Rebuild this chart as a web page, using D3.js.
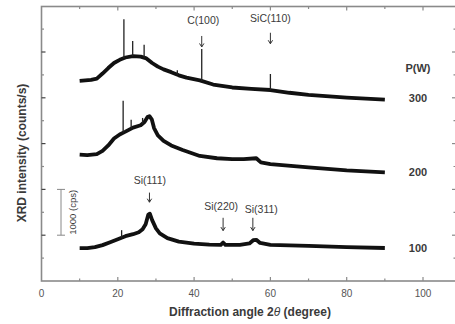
<!DOCTYPE html>
<html>
<head>
<meta charset="utf-8">
<script src="https://cdn.jsdelivr.net/npm/d3@7"></script>
<style>
  body { margin: 0; background: #fff; }
  svg { display: block; font-family: "Liberation Sans", Arial, sans-serif; }
</style>
</head>
<body>
<div id="chart"></div>
<script>
// XRD patterns, [2theta (deg), intensity (cps)]
const series100 = [
  [10, 717], [12, 717], [14, 739], [16, 783], [18, 848], [20, 913], [22, 978],
  [24, 1022], [25.5, 1065], [26.5, 1130], [27.3, 1240], [28, 1450], [28.4, 1470],
  [29, 1330], [30, 1150], [31, 1040], [33, 935], [36, 860], [40, 815], [44, 795],
  [47, 790], [47.6, 840], [48.2, 790], [52, 790], [54.5, 820], [55.5, 890], [56.3, 900],
  [57.3, 830], [60, 790], [70, 765], [80, 740], [90, 720]
];
const series200 = [
  [10, 2761], [12, 2750], [14.5, 2770], [16, 2840], [17.5, 2960], [19, 3110], [20.5, 3200],
  [22, 3261], [24, 3350], [26, 3400], [27, 3470], [27.8, 3580], [28.3, 3600], [28.9, 3530],
  [29.5, 3340], [30.5, 3180], [32, 3060], [34, 2960], [37, 2860], [41.5, 2730], [46, 2680],
  [50, 2660], [53, 2660], [56.3, 2680], [57.5, 2590], [60, 2550], [70, 2480], [80, 2415],
  [90, 2370]
];
const series300 = [
  [10, 4370], [13, 4390], [14.5, 4420], [16, 4530], [17.5, 4650], [19, 4760], [20.5, 4830],
  [22, 4880], [24, 4910], [26, 4900], [27.5, 4860], [29, 4760], [30.5, 4680], [32, 4620],
  [34, 4560], [36, 4490], [38, 4440], [41.5, 4380], [45, 4290], [50, 4225], [55, 4195],
  [60, 4170], [65, 4110], [70, 4065], [80, 4005], [90, 3960]
];
// narrow spikes: [2theta, top (cps)]
const spikes100 = [[21, 1110]];
const spikes200 = [[21.4, 3935], [23.5, 3520], [26.5, 3560]];
const spikes300 = [[21.6, 5717], [23.9, 5240], [26.9, 5160], [35.6, 4600], [42, 5065], [60, 4520]];

const powerLabels = ['300', '200', '100'];
const powerLevels = [4000, 2370, 717];
// label position, then arrow position (2theta, cps)
const peakLabels = [
  { text: 'C(100)', lx: 42.4, ly: 5610, ax: 42, top: 5350, bot: 5110 },
  { text: 'SiC(110)', lx: 60, ly: 5660, ax: 60, top: 5420, bot: 5180 },
  { text: 'Si(111)', lx: 28.4, ly: 2110, ax: 28.3, top: 1930, bot: 1720 },
  { text: 'Si(220)', lx: 47.1, ly: 1540, ax: 47.6, top: 1380, bot: 1100 },
  { text: 'Si(311)', lx: 57.6, ly: 1490, ax: 55.4, top: 1380, bot: 1100 }
];
const xTicks = [0, 20, 40, 60, 80, 100];

const W = 455, H = 324;
const margin = { left: 41.5, top: 6.5, right: -1, bottom: 43 };

const svg = d3.select('#chart').append('svg')
  .attr('width', W).attr('height', H);

const x = d3.scaleLinear().domain([0, 100]).range([margin.left, 423]);
const y = d3.scaleLinear().domain([0, 6000]).range([281, 281 - 6 * 45.8]);
const x1 = W - margin.right;

const axisColor = '#8a8a8a';
const textColor = '#3a3a3a';

// frame
svg.append('rect')
  .attr('x', margin.left).attr('y', margin.top)
  .attr('width', x1 - margin.left).attr('height', 281 - margin.top)
  .attr('fill', 'none').attr('stroke', axisColor).attr('stroke-width', 1.6);

// x ticks (bottom and top, inward)
d3.range(10, 111, 10).forEach(v => {
  const major = v % 20 === 0;
  const len = major ? 4 : 2.5;
  svg.append('line').attr('x1', x(v)).attr('x2', x(v))
    .attr('y1', 281).attr('y2', 281 - len)
    .attr('stroke', axisColor).attr('stroke-width', 1.2);
  svg.append('line').attr('x1', x(v)).attr('x2', x(v))
    .attr('y1', margin.top).attr('y2', margin.top + len)
    .attr('stroke', axisColor).attr('stroke-width', 1.2);
});

// y ticks (left and right, inward)
d3.range(500, 6000, 500).forEach(v => {
  const major = v % 1000 === 0;
  const len = major ? 4 : 2.5;
  svg.append('line').attr('x1', margin.left).attr('x2', margin.left + len)
    .attr('y1', y(v)).attr('y2', y(v))
    .attr('stroke', major ? '#444' : axisColor).attr('stroke-width', 1.2);
  svg.append('line').attr('x1', x1).attr('x2', x1 - len)
    .attr('y1', y(v)).attr('y2', y(v))
    .attr('stroke', axisColor).attr('stroke-width', 1.2);
});

// x tick labels
svg.selectAll('.xt').data(xTicks).enter().append('text')
  .attr('x', d => x(d)).attr('y', 297)
  .attr('text-anchor', 'middle')
  .attr('font-size', 10).attr('fill', '#555')
  .text(d => d);

// axis titles
const xt = svg.append('text')
  .attr('x', 250).attr('y', 316)
  .attr('text-anchor', 'middle')
  .attr('font-size', 12).attr('font-weight', 700).attr('fill', textColor);
xt.append('tspan').text('Diffraction angle 2');
xt.append('tspan').attr('font-style', 'italic').attr('font-weight', 400).text('θ');
xt.append('tspan').text(' (degree)');

svg.append('text')
  .attr('transform', 'translate(26,153) rotate(-90)')
  .attr('text-anchor', 'middle')
  .attr('font-size', 12).attr('font-weight', 700).attr('fill', textColor)
  .text('XRD intensity (counts/s)');

// curves
const line = d3.line().x(d => x(d[0])).y(d => y(d[1]));
const allSeries = [series300, series200, series100];
const allSpikes = [spikes300, spikes200, spikes100];

allSeries.forEach((s, i) => {
  svg.append('path').datum(s)
    .attr('d', line)
    .attr('fill', 'none')
    .attr('stroke', '#111')
    .attr('stroke-width', 3.8)
    .attr('stroke-linejoin', 'round');

  const base = a => {
    const j = d3.bisector(d => d[0]).left(s, a);
    const p0 = s[Math.max(0, j - 1)], p1 = s[Math.min(s.length - 1, j)];
    const t = p1[0] === p0[0] ? 0 : (a - p0[0]) / (p1[0] - p0[0]);
    return p0[1] + t * (p1[1] - p0[1]);
  };
  allSpikes[i].forEach(sp => {
    svg.append('line')
      .attr('x1', x(sp[0])).attr('x2', x(sp[0]))
      .attr('y1', y(base(sp[0]))).attr('y2', y(sp[1]))
      .attr('stroke', '#222').attr('stroke-width', 1.3);
  });
});

// peak labels and arrows
peakLabels.forEach(p => {
  svg.append('text')
    .attr('x', x(p.lx)).attr('y', y(p.ly))
    .attr('text-anchor', 'middle')
    .attr('font-size', 10.5).attr('fill', textColor)
    .text(p.text);
  const ax = x(p.ax);
  svg.append('line')
    .attr('x1', ax).attr('x2', ax)
    .attr('y1', y(p.top)).attr('y2', y(p.bot))
    .attr('stroke', '#333').attr('stroke-width', 1);
  const yb = y(p.bot);
  svg.append('path')
    .attr('d', `M${ax - 2.2},${yb - 3.5}L${ax},${yb}L${ax + 2.2},${yb - 3.5}`)
    .attr('fill', 'none').attr('stroke', '#333').attr('stroke-width', 1);
});

// power labels
svg.append('text')
  .attr('x', 418).attr('y', 72)
  .attr('text-anchor', 'middle')
  .attr('font-size', 11).attr('font-weight', 700).attr('fill', textColor)
  .text('P(W)');
powerLabels.forEach((t, i) => {
  svg.append('text')
    .attr('x', 418).attr('y', y(powerLevels[i]) + 4)
    .attr('text-anchor', 'middle')
    .attr('font-size', 11).attr('font-weight', 700).attr('fill', textColor)
    .text(t);
});

// 1000 cps scale bar
const sbx = 61;
svg.append('line').attr('x1', sbx).attr('x2', sbx)
  .attr('y1', y(2000)).attr('y2', y(1000))
  .attr('stroke', '#888').attr('stroke-width', 1);
[1000, 2000].forEach(v => {
  svg.append('line').attr('x1', sbx - 4).attr('x2', sbx + 4)
    .attr('y1', y(v)).attr('y2', y(v))
    .attr('stroke', '#888').attr('stroke-width', 1);
});
svg.append('text')
  .attr('transform', `translate(76,${y(1500)}) rotate(-90)`)
  .attr('text-anchor', 'middle')
  .attr('font-size', 9.5).attr('fill', textColor)
  .text('1000 (cps)');
</script>
</body>
</html>
